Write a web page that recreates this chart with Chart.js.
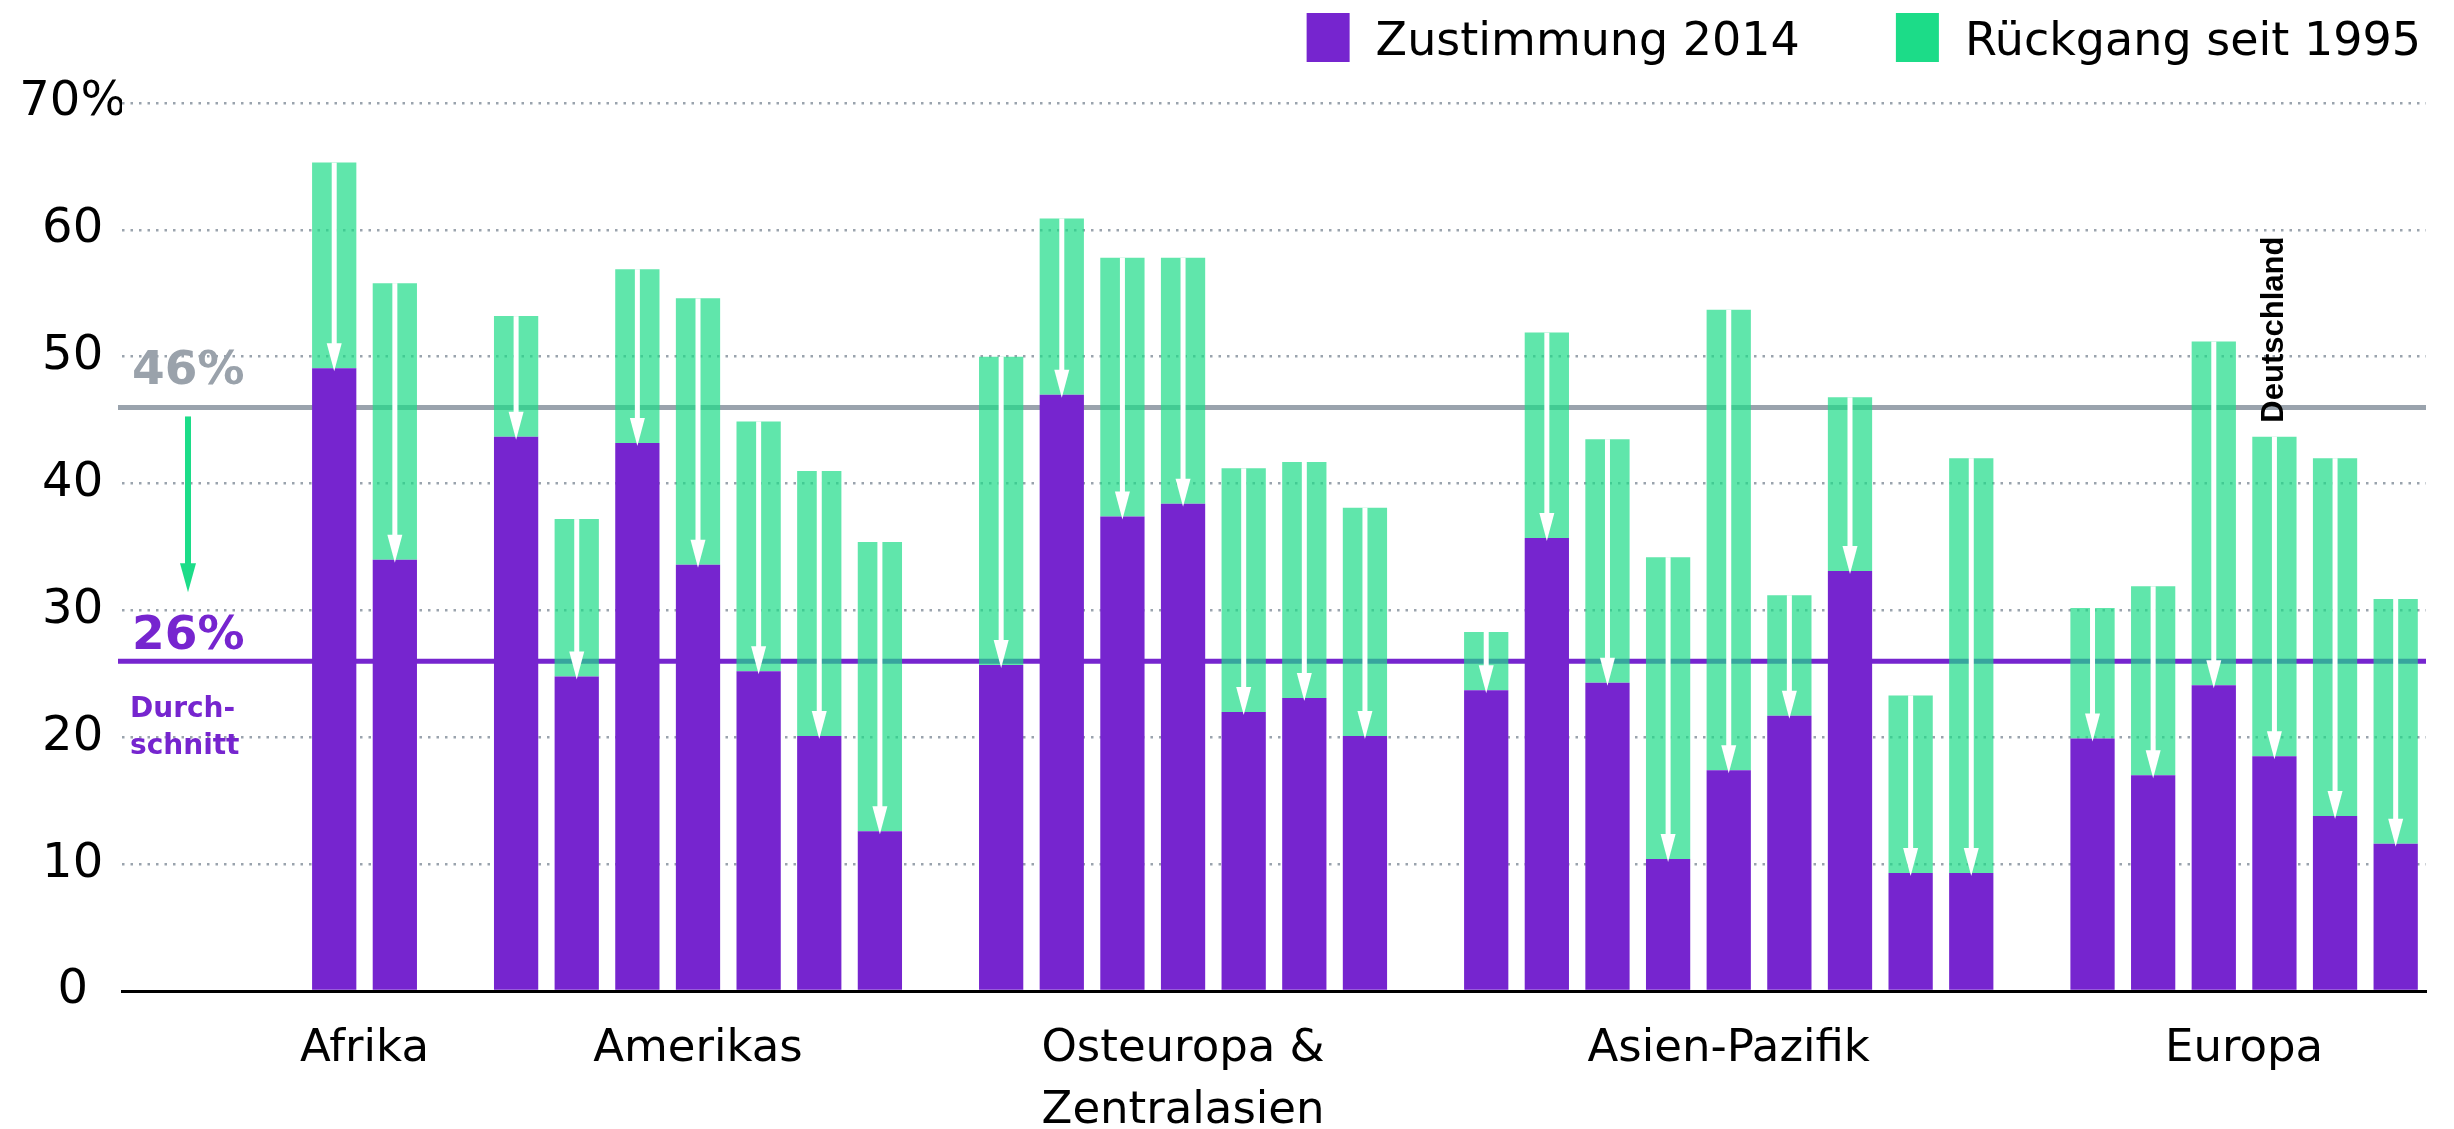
<!DOCTYPE html>
<html lang="de">
<head>
<meta charset="utf-8">
<title>Zustimmung 2014 und Rückgang seit 1995</title>
<script src="https://cdn.jsdelivr.net/npm/chart.js@4.4.0/dist/chart.umd.min.js"></script>
<style>
  html, body { margin: 0; padding: 0; background: #fff; }
  #wrap { width: 2454px; height: 1129px; }
</style>
</head>
<body>
<div id="wrap"><canvas id="chart" width="2454" height="1129"></canvas></div>
<script>
// --- Daten ---
const regionen = [['Afrika'], ['Amerikas'], ['Osteuropa &', 'Zentralasien'], ['Asien-Pazifik'], ['Europa']];

// Zustimmung 1995 (obere Kante, grün) und 2014 (violett), je Region
const zustimmung1995 = [
    [65.3, 55.8],
    [53.2, 37.2, 56.9, 54.6, 44.9, 41.0, 35.4],
    [50.0, 60.9, 57.8, 57.8, 41.2, 41.7, 38.1],
    [28.3, 51.9, 43.5, 34.2, 53.7, 31.2, 46.8, 23.3, 42.0],
    [30.2, 31.9, 51.2, 43.7, 42.0, 30.9]
];
const zustimmung2014 = [
    [49.1, 34.0],
    [43.7, 24.8, 43.2, 33.6, 25.2, 20.1, 12.6],
    [25.7, 47.0, 37.4, 38.4, 22.0, 23.1, 20.1],
    [23.7, 35.7, 24.3, 10.4, 17.4, 21.7, 33.1, 9.3, 9.3],
    [19.9, 17.0, 24.1, 18.5, 13.8, 11.6]
];

const durchschnitt1995 = 46;
const durchschnitt2014 = 26;
const yTicks = [0, 10, 20, 30, 40, 50, 60, 70];
const markierung = { region: 4, index: 3, text: 'Deutschland' };

const legende = ['Zustimmung 2014', 'Rückgang seit 1995'];

// Farben
const VIOLETT = '#7625cf';
const GRUEN = '#1cdc88';
const GRUEN_BALKEN = 'rgba(28,220,136,0.7)';
const GRAU = '#9aa3ad';

// --- Kategorien mit Leerplätzen bauen ---
const LEER_VORNE = 3;
const labels = [];
const datenUnten = [];
const datenOben = [];
const regionSlots = [];
for (let i = 0; i < LEER_VORNE; i++) { labels.push(''); datenUnten.push(null); datenOben.push(null); }
regionen.forEach((r, ri) => {
    if (ri > 0) { labels.push(''); datenUnten.push(null); datenOben.push(null); }
    const slots = [];
    zustimmung2014[ri].forEach((v, j) => {
        slots.push(labels.length);
        labels.push(r.join(' ') + ' ' + (j + 1));
        datenUnten.push(v);
        datenOben.push(+(zustimmung1995[ri][j] - v).toFixed(1));
    });
    regionSlots.push(slots);
});

// --- Plugins ---
const linienPlugin = {
    id: 'durchschnittLinien',
    beforeDatasetsDraw(chart) {
        const { ctx, chartArea, scales: { y } } = chart;
        ctx.save();
        ctx.lineWidth = 5;
        ctx.strokeStyle = GRAU;
        let yy = y.getPixelForValue(durchschnitt1995);
        ctx.beginPath(); ctx.moveTo(chartArea.left - 4, yy); ctx.lineTo(chartArea.right, yy); ctx.stroke();
        ctx.strokeStyle = VIOLETT;
        yy = y.getPixelForValue(durchschnitt2014);
        ctx.beginPath(); ctx.moveTo(chartArea.left - 4, yy); ctx.lineTo(chartArea.right, yy); ctx.stroke();
        ctx.restore();
    }
};

function pfeil(ctx, x, y0, y1, schaft, kopfB, kopfH, farbe) {
    ctx.fillStyle = farbe;
    ctx.fillRect(x - schaft / 2, y0, schaft, y1 - kopfH - y0 + 1);
    ctx.beginPath();
    ctx.moveTo(x - kopfB / 2, y1 - kopfH);
    ctx.lineTo(x + kopfB / 2, y1 - kopfH);
    ctx.lineTo(x, y1);
    ctx.closePath();
    ctx.fill();
}

const deko = {
    id: 'deko',
    afterDatasetsDraw(chart) {
        const { ctx, chartArea, scales: { x, y } } = chart;
        const meta = chart.getDatasetMeta(1);
        ctx.save();
        // weiße Pfeile in den Balken
        meta.data.forEach((el, i) => {
            if (datenOben[i] == null) return;
            pfeil(ctx, el.x, el.y, el.base + 3, 5, 15, 28, '#fff');
        });

        // Deutschland
        const idx = regionSlots[markierung.region][markierung.index];
        const el = meta.data[idx];
        ctx.translate(el.x, el.y - 14);
        ctx.rotate(-Math.PI / 2);
        ctx.font = 'bold 31px "Liberation Sans"';
        ctx.fillStyle = '#000';
        ctx.textAlign = 'left';
        ctx.textBaseline = 'middle';
        ctx.fillText(markierung.text, 0, 0);
        ctx.setTransform(1, 0, 0, 1, 0, 0);

        // Durchschnitt-Beschriftung links
        const y46 = y.getPixelForValue(durchschnitt1995);
        const y26 = y.getPixelForValue(durchschnitt2014);
        const lx = chartArea.left + 10;
        ctx.textAlign = 'left';
        ctx.textBaseline = 'alphabetic';
        ctx.font = 'bold 47px "DejaVu Sans"';
        ctx.fillStyle = '#9aa2ab';
        ctx.fillText(durchschnitt1995 + '%', lx, y46 - 23);
        ctx.fillStyle = VIOLETT;
        ctx.fillText(durchschnitt2014 + '%', lx, y26 - 12);
        ctx.font = 'bold 28px "DejaVu Sans"';
        ctx.fillText('Durch-', lx - 2, y26 + 56);
        ctx.fillText('schnitt', lx - 2, y26 + 93);
        pfeil(ctx, chartArea.left + 66, y46 + 9, y26 - 69, 6, 16, 29, GRUEN);

        // Regionsnamen unter der Achse
        ctx.fillStyle = '#000';
        ctx.textAlign = 'center';
        ctx.font = '45px "DejaVu Sans"';
        regionen.forEach((zeilen, ri) => {
            const s = regionSlots[ri];
            const mx = s.reduce((a, i) => a + x.getPixelForValue(i), 0) / s.length;
            zeilen.forEach((z, k) => ctx.fillText(z, mx, chartArea.bottom + 70 + k * 62));
        });
        ctx.restore();
    },
    afterDraw(chart) {
        // Legende oben rechts
        const ctx = chart.ctx;
        const farben = [VIOLETT, GRUEN];
        ctx.save();
        ctx.font = '46px "DejaVu Sans"';
        ctx.textBaseline = 'alphabetic';
        ctx.textAlign = 'left';
        let xr = chart.width - 33;
        for (let i = legende.length - 1; i >= 0; i--) {
            const w = ctx.measureText(legende[i]).width;
            const tx = xr - w;
            const bx = tx - 26 - 43;
            ctx.fillStyle = farben[i];
            ctx.fillRect(bx, 13, 43, 49);
            ctx.fillStyle = '#000';
            ctx.fillText(legende[i], tx, 55);
            xr = bx - 96;
        }
        ctx.restore();
    }
};

// --- Chart ---
new Chart(document.getElementById('chart'), {
    type: 'bar',
    data: {
        labels: labels,
        datasets: [
            {
                label: legende[0],
                data: datenUnten,
                backgroundColor: VIOLETT,
                borderWidth: 0,
                categoryPercentage: 1,
                barPercentage: 0.73
            },
            {
                label: legende[1],
                data: datenOben,
                backgroundColor: GRUEN_BALKEN,
                borderWidth: 0,
                categoryPercentage: 1,
                barPercentage: 0.73
            }
        ]
    },
    options: {
        responsive: false,
        animation: false,
        layout: { padding: { top: 103, right: 28, bottom: 138, left: 0 } },
        plugins: { legend: { display: false }, tooltip: { enabled: false } },
        scales: {
            x: {
                stacked: true,
                grid: { display: false, drawTicks: false },
                border: { color: '#000', width: 3 },
                ticks: { display: false }
            },
            y: {
                stacked: true,
                min: 0,
                max: 70,
                afterBuildTicks: s => { s.ticks = yTicks.map(v => ({ value: v })); },
                afterFit: s => { s.width = 122; },
                ticks: {
                    callback: v => v === 70 ? '70%' : String(v),
                    color: '#000',
                    font: { family: 'DejaVu Sans', size: 48 },
                    crossAlign: 'center',
                    padding: -4
                },
                grid: {
                    color: c => c.tick.value === 0 ? 'rgba(0,0,0,0)' : GRAU,
                    lineWidth: 2.5,
                    drawTicks: false
                },
                border: { display: false, dash: [2.5, 6] }
            }
        }
    },
    plugins: [linienPlugin, deko]
});
</script>
</body>
</html>
